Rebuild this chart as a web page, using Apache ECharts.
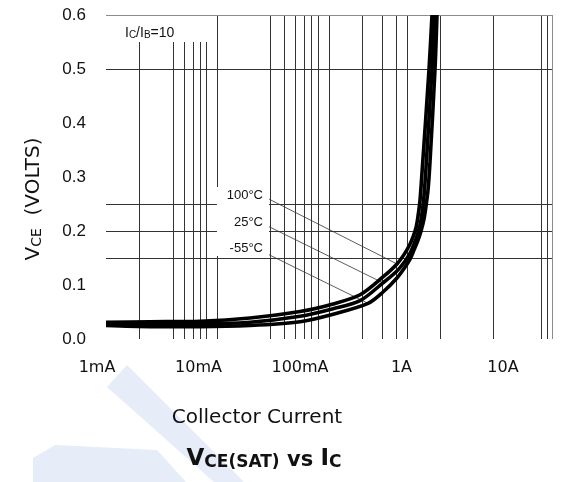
<!DOCTYPE html>
<html lang="en">
<head>
    <meta charset="utf-8" />
    <title>VCE(SAT) vs IC</title>
    <style>
      html, body { margin: 0; padding: 0; background: #fff; }
      #main { width: 576px; height: 482px; }
    </style>
</head>
<body>
    <div id="main"></div>
    <script src="https://cdn.jsdelivr.net/npm/echarts@6.0.0/dist/echarts.min.js"></script>
    <script>
    // collector current (A) and Vce(sat) (V) for each temperature
    var current100 = [0.001, 0.00248, 0.00697, 0.0196, 0.055, 0.109, 0.19, 0.305, 0.407, 0.48, 0.533, 0.567, 0.603, 0.629, 0.655, 0.683, 0.789, 0.839];
    var vce100     = [0.031, 0.032, 0.033, 0.039, 0.051, 0.065, 0.082, 0.115, 0.139, 0.159, 0.176, 0.189, 0.206, 0.228, 0.257, 0.309, 0.5, 0.6];
    var current25  = [0.001, 0.00248, 0.00697, 0.0196, 0.055, 0.109, 0.19, 0.305, 0.407, 0.48, 0.533, 0.579, 0.616, 0.655, 0.683, 0.711, 0.741, 0.839, 0.884];
    var vce25      = [0.028, 0.027, 0.028, 0.031, 0.042, 0.056, 0.071, 0.104, 0.126, 0.144, 0.159, 0.176, 0.191, 0.211, 0.233, 0.265, 0.317, 0.5, 0.6];
    var currentM55 = [0.001, 0.00248, 0.00697, 0.0196, 0.055, 0.109, 0.224, 0.305, 0.407, 0.48, 0.533, 0.579, 0.629, 0.669, 0.711, 0.741, 0.773, 0.805, 0.893, 0.93];
    var vceM55     = [0.025, 0.023, 0.023, 0.025, 0.032, 0.046, 0.066, 0.087, 0.113, 0.133, 0.148, 0.165, 0.183, 0.2, 0.222, 0.246, 0.276, 0.328, 0.5, 0.6];

    // temperature labels and their leader lines (start at label, end on curve)
    var tempLabels = ['100°C', '25°C', '-55°C'];
    var leaderStartX = [0.029, 0.029, 0.0284];
    var leaderStartY = [0.259, 0.208, 0.157];
    var leaderEndX = [0.407, 0.305, 0.224];
    var leaderEndY = [0.139, 0.104, 0.066];

    // irregular grid of the original sheet
    var gridLinesX = [0.002, 0.004, 0.005, 0.006, 0.007, 0.008, 0.01, 0.03, 0.04, 0.05, 0.06, 0.07, 0.08, 0.1, 0.2, 0.3, 0.4, 0.5, 1, 3, 8, 9, 10];
    var gridLinesY = [0.15, 0.2, 0.25, 0.5, 0.6];

    // tick labels
    var xTickLabels = ['1mA', '10mA', '100mA', '1A', '10A'];
    var yTickLabels = ['0.0', '0.1', '0.2', '0.3', '0.4', '0.5', '0.6'];

    function pairs(xs, ys) {
      var out = [];
      for (var i = 0; i < xs.length; i++) out.push([xs[i], ys[i]]);
      return out;
    }

    var myChart = echarts.init(document.getElementById('main'), null, { renderer: 'canvas' });

    var gridMarks = [];
    gridLinesX.forEach(function (v) {
      gridMarks.push({ xAxis: v, lineStyle: { color: v === 10 ? '#8c8c8c' : '#333' } });
    });
    gridLinesY.forEach(function (v) {
      gridMarks.push({ yAxis: v, lineStyle: { color: v === 0.6 ? '#8c8c8c' : '#333' } });
    });

    var curveStyle = { color: '#000', width: 3.6 };
    var series = [
      {
        type: 'line', data: [], z: 1, silent: true,
        markLine: {
          silent: true, precision: 6, symbol: ['none', 'none'], label: { show: false },
          lineStyle: { type: 'solid', width: 1, color: '#333' },
          data: gridMarks
        }
      },
      { name: tempLabels[0], type: 'line', data: pairs(current100, vce100), symbol: 'none', smooth: 0.3, lineStyle: curveStyle, z: 5, silent: true },
      { name: tempLabels[1], type: 'line', data: pairs(current25, vce25), symbol: 'none', smooth: 0.3, lineStyle: curveStyle, z: 5, silent: true },
      { name: tempLabels[2], type: 'line', data: pairs(currentM55, vceM55), symbol: 'none', smooth: 0.3, lineStyle: curveStyle, z: 5, silent: true }
    ];
    for (var i = 0; i < tempLabels.length; i++) {
      series.push({
        type: 'line', symbol: 'none', silent: true, z: 4,
        data: [[leaderStartX[i], leaderStartY[i]], [leaderEndX[i], leaderEndY[i]]],
        lineStyle: { color: '#333', width: 0.8 }
      });
    }

    var option = {
      animation: false,
      backgroundColor: '#fff',
      title: [
        {
          text: 'Collector Current', left: 252, top: 403, textAlign: 'center',
          textStyle: { fontFamily: 'DejaVu Sans', fontSize: 20, fontWeight: 'normal', color: '#111' }
        },
        {
          text: '{b|V}{s|CE(SAT)}{m| vs }{b|I}{s|C}', left: 259, top: 443, textAlign: 'center',
          textStyle: {
            rich: {
              b: { fontFamily: 'DejaVu Sans', fontWeight: 'bold', fontSize: 23, color: '#111', verticalAlign: 'bottom' },
              s: { fontFamily: 'DejaVu Sans', fontWeight: 'bold', fontSize: 17, color: '#111', verticalAlign: 'bottom' },
              m: { fontFamily: 'DejaVu Sans', fontWeight: 'bold', fontSize: 21, color: '#111', verticalAlign: 'bottom' }
            }
          }
        }
      ],
      grid: [
        { left: 106, right: 24, top: 15, bottom: 143 },
        { left: 97, width: 406, top: 15, bottom: 143 }
      ],
      xAxis: [
        {
          type: 'log', logBase: 10, min: 0.001, max: 10, gridIndex: 0,
          axisLine: { show: false }, axisTick: { show: false },
          axisLabel: { show: false }, splitLine: { show: false }, minorSplitLine: { show: false }
        },
        {
          type: 'log', logBase: 10, min: 0.001, max: 10, interval: 1, gridIndex: 1,
          axisLine: { show: false }, axisTick: { show: false }, splitLine: { show: false },
          axisLabel: {
            margin: 21, fontFamily: 'DejaVu Sans', fontSize: 16, color: '#111',
            showMinLabel: true, showMaxLabel: true,
            formatter: function (v) {
              return xTickLabels[Math.round(Math.log10(v)) + 3];
            }
          }
        }
      ],
      yAxis: [
        {
          type: 'value', min: 0, max: 0.6, interval: 0.1, gridIndex: 0,
          axisLine: { show: false }, axisTick: { show: false }, splitLine: { show: false },
          axisLabel: {
            margin: 20, fontFamily: 'Liberation Sans', fontSize: 17, color: '#111',
            formatter: function (v) { return yTickLabels[Math.round(v * 10)]; }
          },
          name: '{v|V}{s|CE}{v|  (VOLTS)}',
          nameLocation: 'middle', nameGap: 62,
          nameTextStyle: {
            padding: [0, 44, 0, 0],
            rich: {
              v: { fontFamily: 'DejaVu Sans', fontSize: 20, color: '#111', verticalAlign: 'bottom' },
              s: { fontFamily: 'DejaVu Sans', fontSize: 14, color: '#111', verticalAlign: 'bottom' }
            }
          }
        },
        { type: 'value', gridIndex: 1, show: false, min: 0, max: 1 }
      ],
      graphic: [
        // faint watermark shapes
        { type: 'polygon', z: -1, shape: { points: [[107, 387], [127, 365], [244, 482], [214, 482]] }, style: { fill: '#e6ecf8' } },
        { type: 'polygon', z: -1, shape: { points: [[55, 445], [157, 450], [186, 482], [33, 482], [33, 458]] }, style: { fill: '#e6ecf8' } },
        // IC/IB box
        { type: 'rect', z: 10, shape: { x: 115, y: 16, width: 97, height: 26 }, style: { fill: '#fff' } },
        {
          type: 'text', z: 11, x: 125, y: 33,
          style: {
            text: '{a|I}{b|C}{a|/I}{b|B}{a|=10}', verticalAlign: 'middle',
            rich: {
              a: { fontFamily: 'Liberation Sans', fontSize: 14, fill: '#111', verticalAlign: 'bottom' },
              b: { fontFamily: 'Liberation Sans', fontSize: 10, fill: '#111', verticalAlign: 'bottom' }
            }
          }
        },
        // temperature label box
        { type: 'rect', z: 10, shape: { x: 217, y: 187, width: 52, height: 69 }, style: { fill: '#fff' } },
        { type: 'text', z: 11, x: 263, y: 195, style: { text: tempLabels[0], align: 'right', verticalAlign: 'middle', fontFamily: 'Liberation Sans', fontSize: 13, fill: '#111' } },
        { type: 'text', z: 11, x: 263, y: 222, style: { text: tempLabels[1], align: 'right', verticalAlign: 'middle', fontFamily: 'Liberation Sans', fontSize: 13, fill: '#111' } },
        { type: 'text', z: 11, x: 263, y: 248, style: { text: tempLabels[2], align: 'right', verticalAlign: 'middle', fontFamily: 'Liberation Sans', fontSize: 13, fill: '#111' } }
      ],
      series: series
    };
    myChart.setOption(option);
    </script>
</body>
</html>
